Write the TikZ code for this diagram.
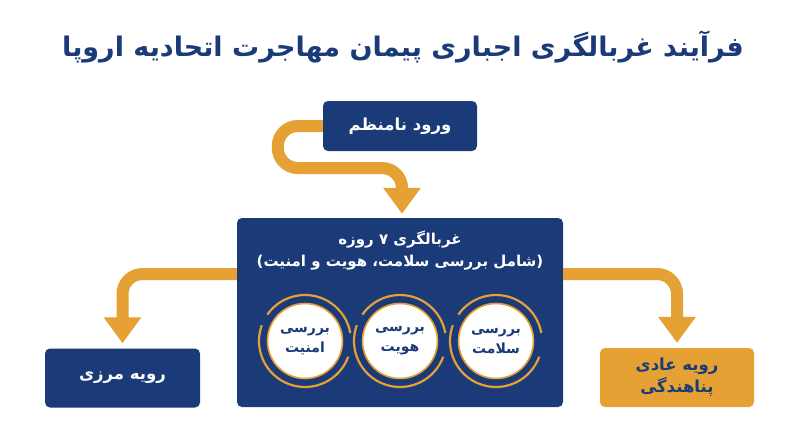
\documentclass[tikz,border=0pt]{standalone}
\usepackage{fontspec}
\usetikzlibrary{arrows.meta}
\TeXXeTstate=1
\newfontfamily\fa[Script=Arabic]{DejaVu Sans}
\newcommand\rl[1]{\beginR #1\endR}
\definecolor{navy}{HTML}{1A3A78}
\definecolor{gold}{HTML}{E6A134}
\begin{document}
\begin{tikzpicture}[x=1pt,y=-1pt,
  box/.style={fill=navy, rounded corners=5pt, inner sep=0pt, text=white,
    font=\fa\bfseries\fontsize{16.5}{22}\selectfont, align=center},
  flow/.style={draw=gold, line width=12pt, rounded corners=20pt,
    -{Triangle[width=36pt,length=26pt]}},
  ringnode/.style={circle, fill=white, draw=gold, line width=1.6pt,
    minimum size=75pt, inner sep=0pt, text=navy, align=center,
    font=\fa\bfseries\fontsize{14}{20}\selectfont},
  outer/.style={draw=gold, line width=2.2pt}
]
\useasboundingbox (0,0) rectangle (800,447);
\fill[white] (0,0) rectangle (800,447);

\node[font=\fa\bfseries\fontsize{27}{32}\selectfont, text=navy] (title) at (403,47)
  {\rl{فرآیند غربالگری اجباری پیمان مهاجرت اتحادیه اروپا}};

\node[box, minimum width=154pt, minimum height=50pt] (entry) at (400,126) {\rl{ورود نامنظم}};
\node[box, minimum width=326pt, minimum height=189pt] (screen) at (400,312.5) {};
\node[box, minimum width=155pt, minimum height=59pt] (border) at (122.5,378) {\rl{رویه مرزی}};
\node[box, fill=gold, text=navy, minimum width=154pt, minimum height=59pt] (asylum) at (677,377.5)
  {\rl{رویه عادی}\\\rl{پناهندگی}};

\node[text=white, align=center, font=\fa\bfseries\fontsize{15}{22}\selectfont] (head) at (400,251)
  {\rl{غربالگری ۷ روزه}\\\rl{(شامل بررسی سلامت، هویت و امنیت)}};

\node[ringnode] (c1) at (305,341) {\rl{بررسی}\\\rl{امنیت}};
\node[ringnode] (c2) at (400,341) {\rl{بررسی}\\\rl{هویت}};
\node[ringnode] (c3) at (496,341) {\rl{بررسی}\\\rl{سلامت}};
\foreach \c in {c1,c2,c3}{
  \draw[outer] ([shift={(20:46)}]\c.center) arc[start angle=20, end angle=200, radius=46];
  \draw[outer] ([shift={(215:46)}]\c.center) arc[start angle=215, end angle=350, radius=46];
}

\draw[flow] (entry.west) -- ++(-45,0) -- ++(0,42) -| ([xshift=2pt,yshift=4pt]screen.north);
\draw[flow] ([yshift=38.5pt]screen.west) -| ([yshift=5pt]border.north);
\draw[flow] ([yshift=38.5pt]screen.east) -| ([yshift=5pt]asylum.north);
\end{tikzpicture}
\end{document}
